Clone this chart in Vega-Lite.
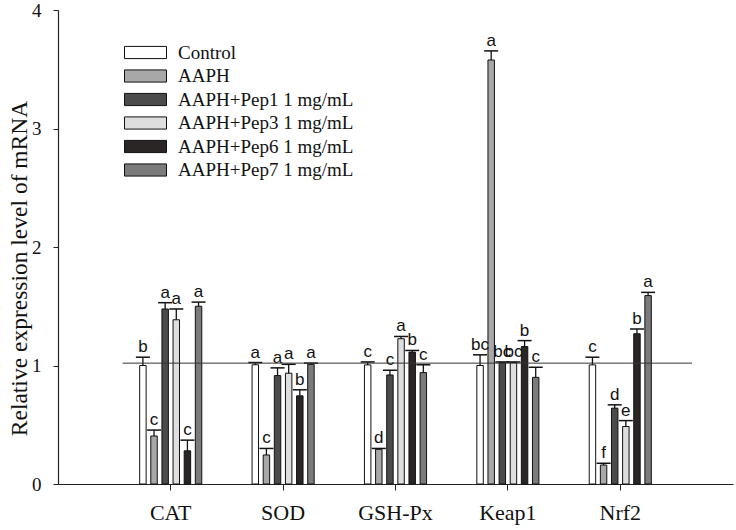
{
  "$schema": "https://vega.github.io/schema/vega-lite/v6.json",
  "width": 675,
  "height": 474,
  "autosize": {"type": "none"},
  "padding": {"left": 58, "top": 10, "right": 3, "bottom": 46},
  "background": "white",
  "config": {
    "view": {"stroke": null},
    "axis": {"grid": false, "domainColor": "#222", "tickColor": "#222", "labelColor": "#111", "titleColor": "#111"},
    "text": {"font": "Liberation Sans"}
  },
  "datasets": {
    "bars": [
      {"gene": "CAT", "group": "Control", "value": 1.0, "cap": 1.07, "letter": "b"},
      {"gene": "CAT", "group": "AAPH", "value": 0.405, "cap": 0.455, "letter": "c"},
      {"gene": "CAT", "group": "AAPH+Pep1 1 mg/mL", "value": 1.477, "cap": 1.53, "letter": "a"},
      {"gene": "CAT", "group": "AAPH+Pep3 1 mg/mL", "value": 1.386, "cap": 1.477, "letter": "a"},
      {"gene": "CAT", "group": "AAPH+Pep6 1 mg/mL", "value": 0.28, "cap": 0.37, "letter": "c"},
      {"gene": "CAT", "group": "AAPH+Pep7 1 mg/mL", "value": 1.5, "cap": 1.535, "letter": "a"},
      {"gene": "SOD", "group": "Control", "value": 1.006, "cap": 1.025, "letter": "a"},
      {"gene": "SOD", "group": "AAPH", "value": 0.245, "cap": 0.3, "letter": "c"},
      {"gene": "SOD", "group": "AAPH+Pep1 1 mg/mL", "value": 0.915, "cap": 0.98, "letter": "a"},
      {"gene": "SOD", "group": "AAPH+Pep3 1 mg/mL", "value": 0.935, "cap": 1.01, "letter": "a"},
      {"gene": "SOD", "group": "AAPH+Pep6 1 mg/mL", "value": 0.744, "cap": 0.795, "letter": "b"},
      {"gene": "SOD", "group": "AAPH+Pep7 1 mg/mL", "value": 1.01, "cap": 1.02, "letter": "a"},
      {"gene": "GSH-Px", "group": "Control", "value": 1.005, "cap": 1.03, "letter": "c"},
      {"gene": "GSH-Px", "group": "AAPH", "value": 0.293, "cap": 0.3, "letter": "d"},
      {"gene": "GSH-Px", "group": "AAPH+Pep1 1 mg/mL", "value": 0.92, "cap": 0.96, "letter": "c"},
      {"gene": "GSH-Px", "group": "AAPH+Pep3 1 mg/mL", "value": 1.226, "cap": 1.245, "letter": "a"},
      {"gene": "GSH-Px", "group": "AAPH+Pep6 1 mg/mL", "value": 1.113, "cap": 1.127, "letter": "b"},
      {"gene": "GSH-Px", "group": "AAPH+Pep7 1 mg/mL", "value": 0.94, "cap": 1.006, "letter": "c"},
      {"gene": "Keap1", "group": "Control", "value": 1.0, "cap": 1.09, "letter": "bc"},
      {"gene": "Keap1", "group": "AAPH", "value": 3.578, "cap": 3.655, "letter": "a"},
      {"gene": "Keap1", "group": "AAPH+Pep1 1 mg/mL", "value": 1.025, "cap": 1.03, "letter": "bc"},
      {"gene": "Keap1", "group": "AAPH+Pep3 1 mg/mL", "value": 1.025, "cap": 1.03, "letter": "bc"},
      {"gene": "Keap1", "group": "AAPH+Pep6 1 mg/mL", "value": 1.16, "cap": 1.21, "letter": "b"},
      {"gene": "Keap1", "group": "AAPH+Pep7 1 mg/mL", "value": 0.9, "cap": 0.985, "letter": "c"},
      {"gene": "Nrf2", "group": "Control", "value": 1.005, "cap": 1.07, "letter": "c"},
      {"gene": "Nrf2", "group": "AAPH", "value": 0.16, "cap": 0.175, "letter": "f"},
      {"gene": "Nrf2", "group": "AAPH+Pep1 1 mg/mL", "value": 0.64, "cap": 0.668, "letter": "d"},
      {"gene": "Nrf2", "group": "AAPH+Pep3 1 mg/mL", "value": 0.485, "cap": 0.535, "letter": "e"},
      {"gene": "Nrf2", "group": "AAPH+Pep6 1 mg/mL", "value": 1.268, "cap": 1.308, "letter": "b"},
      {"gene": "Nrf2", "group": "AAPH+Pep7 1 mg/mL", "value": 1.59, "cap": 1.617, "letter": "a"}
    ],
    "refline": [{"start": 0.576, "end": 5.648, "level": 1.02}]
  },
  "layer": [
    {
      "layer": [
        {
          "data": {"name": "bars"},
          "mark": {"type": "bar", "stroke": "#111", "strokeWidth": 1},
          "encoding": {
            "x": {"field": "gene", "type": "nominal", "sort": ["CAT", "SOD", "GSH-Px", "Keap1", "Nrf2"],
              "scale": {"paddingInner": 0.394, "paddingOuter": 0.7},
              "axis": {"title": null, "labelAngle": 0, "labelFont": "Liberation Serif", "labelFontSize": 22, "tickSize": 6, "labelPadding": 12, "domainWidth": 1.2}},
            "xOffset": {"field": "group", "type": "nominal",
              "sort": ["Control", "AAPH", "AAPH+Pep1 1 mg/mL", "AAPH+Pep3 1 mg/mL", "AAPH+Pep6 1 mg/mL", "AAPH+Pep7 1 mg/mL"],
              "scale": {"paddingInner": 0.42, "paddingOuter": 0.27}},
            "y": {"field": "value", "type": "quantitative",
              "scale": {"domain": [0, 4], "nice": false},
              "axis": {"title": "Relative expression level of mRNA", "titleFont": "Liberation Serif", "titleFontSize": 23.5, "titleFontWeight": "normal",
                "titleX": -39, "titleY": 258, "titleAngle": -90, "titleAlign": "center", "titleBaseline": "middle",
                "values": [0, 1, 2, 3, 4], "format": "d", "labelFont": "Liberation Serif", "labelFontSize": 19, "tickSize": 5, "labelPadding": 12, "domainWidth": 1.2}},
            "fill": {"field": "group", "type": "nominal",
              "sort": ["Control", "AAPH", "AAPH+Pep1 1 mg/mL", "AAPH+Pep3 1 mg/mL", "AAPH+Pep6 1 mg/mL", "AAPH+Pep7 1 mg/mL"],
              "scale": {"domain": ["Control", "AAPH", "AAPH+Pep1 1 mg/mL", "AAPH+Pep3 1 mg/mL", "AAPH+Pep6 1 mg/mL", "AAPH+Pep7 1 mg/mL"],
                "range": ["#ffffff", "#a8a8a8", "#4b4b4b", "#dedede", "#2b2626", "#7b7b7b"]},
              "legend": {"orient": "none", "legendX": 76.5, "legendY": 31.5, "title": null,
                "symbolType": "M-2,-0.58L2,-0.58L2,0.58L-2,0.58Z", "symbolSize": 441,
                "symbolStrokeColor": "#111", "symbolStrokeWidth": 1, "symbolOpacity": 1,
                "labelFont": "Liberation Serif", "labelFontSize": 19, "labelColor": "#111", "labelOffset": 21.5, "labelLimit": 400,
                "rowPadding": 2.5, "padding": 0}}
          }
        },
        {
          "data": {"name": "bars"},
          "mark": {"type": "rule", "color": "#111", "strokeWidth": 1.3},
          "encoding": {
            "x": {"field": "gene", "type": "nominal", "sort": ["CAT", "SOD", "GSH-Px", "Keap1", "Nrf2"]},
            "xOffset": {"field": "group", "type": "nominal", "sort": ["Control", "AAPH", "AAPH+Pep1 1 mg/mL", "AAPH+Pep3 1 mg/mL", "AAPH+Pep6 1 mg/mL", "AAPH+Pep7 1 mg/mL"]},
            "y": {"field": "value", "type": "quantitative"},
            "y2": {"field": "cap"}
          }
        },
        {
          "data": {"name": "bars"},
          "mark": {"type": "tick", "color": "#111", "thickness": 1.5, "size": 14, "opacity": 1},
          "encoding": {
            "x": {"field": "gene", "type": "nominal", "sort": ["CAT", "SOD", "GSH-Px", "Keap1", "Nrf2"]},
            "xOffset": {"field": "group", "type": "nominal", "sort": ["Control", "AAPH", "AAPH+Pep1 1 mg/mL", "AAPH+Pep3 1 mg/mL", "AAPH+Pep6 1 mg/mL", "AAPH+Pep7 1 mg/mL"]},
            "y": {"field": "cap", "type": "quantitative"}
          }
        },
        {
          "data": {"name": "bars"},
          "mark": {"type": "text", "font": "Liberation Sans", "fontSize": 17, "color": "#111", "baseline": "alphabetic", "dy": -5},
          "encoding": {
            "x": {"field": "gene", "type": "nominal", "sort": ["CAT", "SOD", "GSH-Px", "Keap1", "Nrf2"]},
            "xOffset": {"field": "group", "type": "nominal", "sort": ["Control", "AAPH", "AAPH+Pep1 1 mg/mL", "AAPH+Pep3 1 mg/mL", "AAPH+Pep6 1 mg/mL", "AAPH+Pep7 1 mg/mL"]},
            "y": {"field": "cap", "type": "quantitative"},
            "text": {"field": "letter"}
          }
        }
      ]
    },
    {
      "data": {"name": "refline"},
      "mark": {"type": "rule", "color": "#333", "strokeWidth": 1},
      "encoding": {
        "x": {"field": "start", "type": "quantitative", "scale": {"domain": [0, 6.013], "nice": false, "zero": false}, "axis": null},
        "x2": {"field": "end"},
        "y": {"field": "level", "type": "quantitative"}
      }
    }
  ],
  "resolve": {"scale": {"x": "independent"}}
}
